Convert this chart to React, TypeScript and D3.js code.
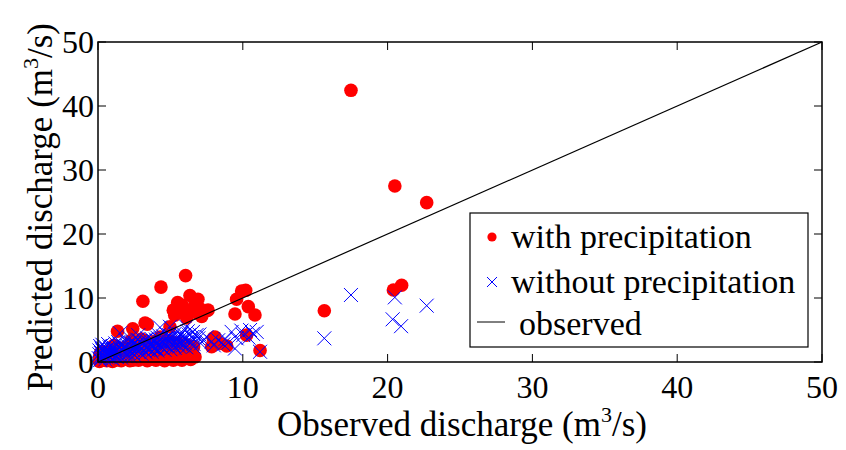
import React from "react";
import * as d3 from "d3";

const xTicks = [0, 10, 20, 30, 40, 50];
const yTicks = [0, 10, 20, 30, 40, 50];

// with precipitation: [observed, predicted]
const withPrecip: [number, number][] = [
  [17.47, 42.45], [20.5, 27.5], [22.7, 24.9], [20.97, 12.0], [20.4, 11.25], [15.63, 8.0],
  [6.05, 13.5], [4.35, 11.7], [3.1, 9.5], [6.35, 10.4], [6.7, 9.2], [7.0, 8.4], [7.6, 8.1],
  [5.2, 8.1], [5.66, 8.6], [5.9, 8.4], [5.8, 8.9], [5.3, 7.3], [6.12, 6.9], [7.16, 7.1],
  [7.5, 8.0], [3.4, 5.9], [2.4, 5.2], [1.35, 4.8], [9.92, 11.1], [10.2, 11.2], [9.57, 9.8],
  [9.46, 7.5], [10.38, 8.65], [10.84, 7.34], [10.26, 4.2], [11.19, 1.8], [7.96, 3.7],
  [8.43, 2.9], [8.89, 2.5], [7.85, 2.4], [3.25, 6.1], [4.97, 5.5], [8.08, 3.9],
  [0.3, 0.4], [0.6, 0.2], [0.9, 0.5], [1.2, 0.3], [1.5, 0.8], [1.8, 0.4], [2.1, 0.6],
  [2.4, 0.3], [2.7, 0.9], [3.0, 0.5], [3.3, 1.1], [3.6, 0.4], [3.9, 0.8], [4.2, 1.2],
  [4.5, 0.6], [4.8, 1.0], [5.1, 1.4], [5.4, 0.7], [5.7, 1.1], [6.0, 1.5], [6.3, 0.9],
  [6.5, 1.8], [0.5, 1.0], [1.0, 1.5], [1.4, 2.0], [2.0, 1.8], [2.5, 2.2], [3.1, 2.5],
  [3.5, 2.0], [4.0, 2.4], [4.6, 2.8], [5.0, 2.2], [5.5, 3.0], [6.2, 2.6], [2.2, 1.2],
  [2.8, 1.6], [3.8, 1.6], [4.4, 1.9], [5.2, 1.9], [5.9, 2.3], [6.4, 1.3], [1.1, 2.6],
  [2.6, 2.9], [0.8, 0.9], [1.7, 1.2], [2.3, 3.4], [3.0, 3.6], [3.9, 3.2], [4.3, 3.9],
  [0.1, 0.1], [0.4, 0.7], [0.7, 0.3], [1.0, 0.1], [1.3, 0.6], [1.6, 0.2], [1.9, 0.9],
  [2.2, 0.2], [2.5, 0.6], [2.8, 0.3], [3.1, 0.8], [3.4, 0.2], [3.7, 0.9], [4.0, 0.3],
  [4.3, 0.7], [4.6, 0.2], [4.9, 0.6], [5.2, 0.3], [5.5, 0.5], [5.8, 0.3], [6.1, 0.6],
  [6.4, 0.4], [6.7, 0.8], [1.8, 2.2], [4.1, 2.9], [5.6, 2.0], [6.6, 2.4], [0.6, 1.6],
  [3.3, 3.0], [4.9, 3.3], [6.9, 7.6], [6.4, 8.1], [5.5, 9.3], [6.9, 9.8], [0.1, 0.8],
  [0.2, 1.5],
];

// without precipitation: [observed, predicted]
const withoutPrecip: [number, number][] = [
  [17.47, 10.47], [20.5, 10.1], [22.7, 8.8], [20.35, 6.67], [20.93, 5.6], [15.63, 3.7],
  [0.1, 1.2], [0.2, 0.6], [0.3, 1.8], [0.4, 1.0], [0.5, 1.5], [0.6, 2.0], [0.7, 0.9],
  [0.8, 1.3], [0.9, 1.9], [1.0, 1.1], [1.1, 2.2], [1.2, 1.6], [1.3, 0.8], [1.4, 2.5],
  [1.5, 1.3], [1.6, 1.9], [1.7, 2.7], [1.8, 1.5], [1.9, 2.2], [2.0, 1.0], [2.1, 2.9],
  [2.2, 1.8], [2.3, 2.4], [2.4, 1.4], [2.5, 3.0], [2.6, 2.0], [2.7, 2.6], [2.8, 1.6],
  [2.9, 3.2], [3.0, 2.2], [3.1, 2.8], [3.2, 1.8], [3.3, 3.4], [3.4, 2.4], [3.5, 3.0],
  [3.6, 2.0], [3.7, 3.6], [3.8, 2.6], [3.9, 3.2], [4.0, 2.2], [4.1, 3.8], [4.2, 2.8],
  [4.3, 3.4], [4.4, 2.3], [4.5, 4.0], [4.6, 3.0], [4.7, 3.6], [4.8, 2.5], [4.9, 4.2],
  [5.0, 3.2], [5.1, 3.8], [5.2, 2.6], [5.3, 4.4], [5.4, 3.4], [5.5, 2.8], [5.6, 4.0],
  [5.7, 3.0], [5.8, 4.6], [5.9, 3.7], [6.0, 2.9], [6.1, 5.5], [6.3, 4.2], [6.56, 4.7],
  [6.35, 2.95], [6.93, 3.7], [7.27, 3.4], [7.85, 3.2], [8.66, 2.76], [9.23, 4.7],
  [9.57, 3.7], [9.46, 2.1], [10.03, 4.2], [10.5, 5.0], [10.96, 4.7], [11.19, 1.6],
  [1.52, 4.5], [2.78, 4.2], [4.28, 5.4], [4.97, 5.5], [0.15, 0.3], [0.5, 0.4], [1.0, 0.5],
  [1.6, 0.7], [2.2, 0.9], [6.6, 2.4], [7.0, 4.3],
  [0.2, 1.4], [0.3, 0.9], [0.4, 2.1], [0.6, 1.2], [0.7, 1.7], [0.9, 0.7], [1.0, 2.4],
  [1.1, 1.4], [1.2, 0.9], [1.3, 2.0], [1.5, 2.8], [1.6, 1.1], [1.8, 2.4], [1.9, 0.9],
  [2.0, 2.0], [2.1, 1.4], [2.3, 3.0], [2.4, 1.9], [2.5, 1.1], [2.6, 2.6], [2.7, 3.5],
  [2.8, 2.1], [3.0, 1.3], [3.0, 3.0], [3.2, 2.5], [3.3, 1.5], [3.4, 3.7], [3.5, 2.2],
  [3.6, 2.9], [3.7, 1.6], [3.8, 3.3], [3.9, 2.1], [4.0, 3.5], [4.1, 1.8], [4.2, 4.2],
  [4.3, 2.5], [4.5, 3.2], [4.6, 1.9], [4.7, 4.4], [4.8, 3.0], [5.0, 2.0], [5.0, 4.0],
  [5.2, 3.3], [5.3, 2.2], [5.5, 3.7], [5.6, 2.4], [5.7, 4.3], [5.8, 3.0], [6.0, 3.8],
  [6.1, 2.3], [6.2, 4.8], [6.3, 3.2], [6.5, 3.9], [6.6, 2.8], [6.8, 4.2], [7.1, 2.9],
  [7.5, 3.9], [8.0, 2.6], [8.3, 3.4], [8.8, 3.6], [9.0, 3.0], [9.9, 4.9], [10.4, 3.8],
  [10.7, 4.4],
  [0.15, 2.5], [0.3, 2.7], [0.5, 2.4], [0.7, 2.8], [0.25, 2.1], [0.8, 2.3], [1.2, 2.9],
  [1.4, 3.1], [0.45, 1.7], [1.9, 3.4], [2.2, 3.7], [0.05, 0.6], [0.1, 1.8], [0.35, 1.3],
  [0.55, 0.8], [0.85, 1.6], [1.15, 1.9], [1.35, 1.2], [1.75, 1.8], [2.05, 2.5],
  [2.45, 2.7], [2.85, 2.4], [3.15, 3.3], [3.45, 1.9], [3.75, 2.3], [4.05, 2.7],
  [4.35, 3.0], [4.65, 2.6], [4.95, 3.6], [5.25, 3.0], [5.55, 3.3], [5.85, 2.6],
];

const observedLine: [number, number][] = [[0, 0], [50, 50]];

const W = 846;
const H = 450;
const M = { left: 98, right: 822, top: 42, bottom: 362 };
const FONT = "Liberation Serif";

export default function App() {
  const x = d3.scaleLinear().domain([0, 50]).range([M.left, M.right]);
  const y = d3.scaleLinear().domain([0, 50]).range([M.bottom, M.top]);
  const line = d3.line<[number, number]>().x((d) => x(d[0])).y((d) => y(d[1]));
  const tk = 8;
  const cs = 7;
  const tStyle = { fontFamily: FONT };

  const xMark = (cx: number, cy: number, s: number, key: any) => (
    <path
      key={key}
      d={`M${cx - s},${cy - s}L${cx + s},${cy + s}M${cx - s},${cy + s}L${cx + s},${cy - s}`}
      stroke="#0000ff"
      strokeWidth={1}
      fill="none"
    />
  );

  return (
    <svg
      width={W}
      height={H}
      style={{ position: "absolute", left: 0, top: 0, background: "#fff" }}
    >
      <rect x={0} y={0} width={W} height={H} fill="#fff" />
      {/* data */}
      <g>
        {withPrecip.map((d, i) => (
          <circle key={"r" + i} cx={x(d[0])} cy={y(d[1])} r={6.8} fill="#ff0000" />
        ))}
      </g>
      <g>{withoutPrecip.map((d, i) => xMark(x(d[0]), y(d[1]), cs, "b" + i))}</g>
      <path d={line(observedLine) || ""} stroke="#000" strokeWidth={1.2} fill="none" />

      {/* box and ticks */}
      <rect
        x={M.left}
        y={M.top}
        width={M.right - M.left}
        height={M.bottom - M.top}
        fill="none"
        stroke="#000"
        strokeWidth={1.5}
      />
      {xTicks.map((t) => (
        <g key={"xt" + t}>
          <line x1={x(t)} x2={x(t)} y1={M.bottom} y2={M.bottom - tk} stroke="#000" strokeWidth={1} />
          <line x1={x(t)} x2={x(t)} y1={M.top} y2={M.top + tk} stroke="#000" strokeWidth={1} />
          <text style={tStyle} x={x(t)} y={398} textAnchor="middle" fontSize={32} fill="#000">
            {t}
          </text>
        </g>
      ))}
      {yTicks.map((t) => (
        <g key={"yt" + t}>
          <line x1={M.left} x2={M.left + tk} y1={y(t)} y2={y(t)} stroke="#000" strokeWidth={1} />
          <line x1={M.right} x2={M.right - tk} y1={y(t)} y2={y(t)} stroke="#000" strokeWidth={1} />
          <text style={tStyle} x={94} y={y(t) + 11} textAnchor="end" fontSize={32} fill="#000">
            {t}
          </text>
        </g>
      ))}

      {/* axis labels */}
      <text style={tStyle} x={462} y={436} textAnchor="middle" fontSize={35} fill="#000">
        Observed discharge (m<tspan dy={-14} fontSize={22}>3</tspan>
        <tspan dy={14}>/s)</tspan>
      </text>
      <text
        style={tStyle}
        transform={`translate(52,${207}) rotate(-90)`}
        textAnchor="middle"
        fontSize={35}
        fill="#000"
      >
        Predicted discharge (m<tspan dy={-14} fontSize={22}>3</tspan>
        <tspan dy={14}>/s)</tspan>
      </text>

      {/* legend */}
      <g>
        <rect x={470} y={213} width={338} height={134} fill="#fff" stroke="#000" strokeWidth={1.2} />
        <circle cx={492} cy={237} r={4.6} fill="#ff0000" />
        <text style={tStyle} x={511} y={248} fontSize={34} fill="#000">with precipitation</text>
        {xMark(492, 282, 5, "lx")}
        <text style={tStyle} x={511} y={293} fontSize={34} fill="#000">without precipitation</text>
        <line x1={477} x2={505} y1={322} y2={322} stroke="#000" strokeWidth={1} />
        <text style={tStyle} x={519} y={335} fontSize={34} fill="#000">observed</text>
      </g>
    </svg>
  );
}
